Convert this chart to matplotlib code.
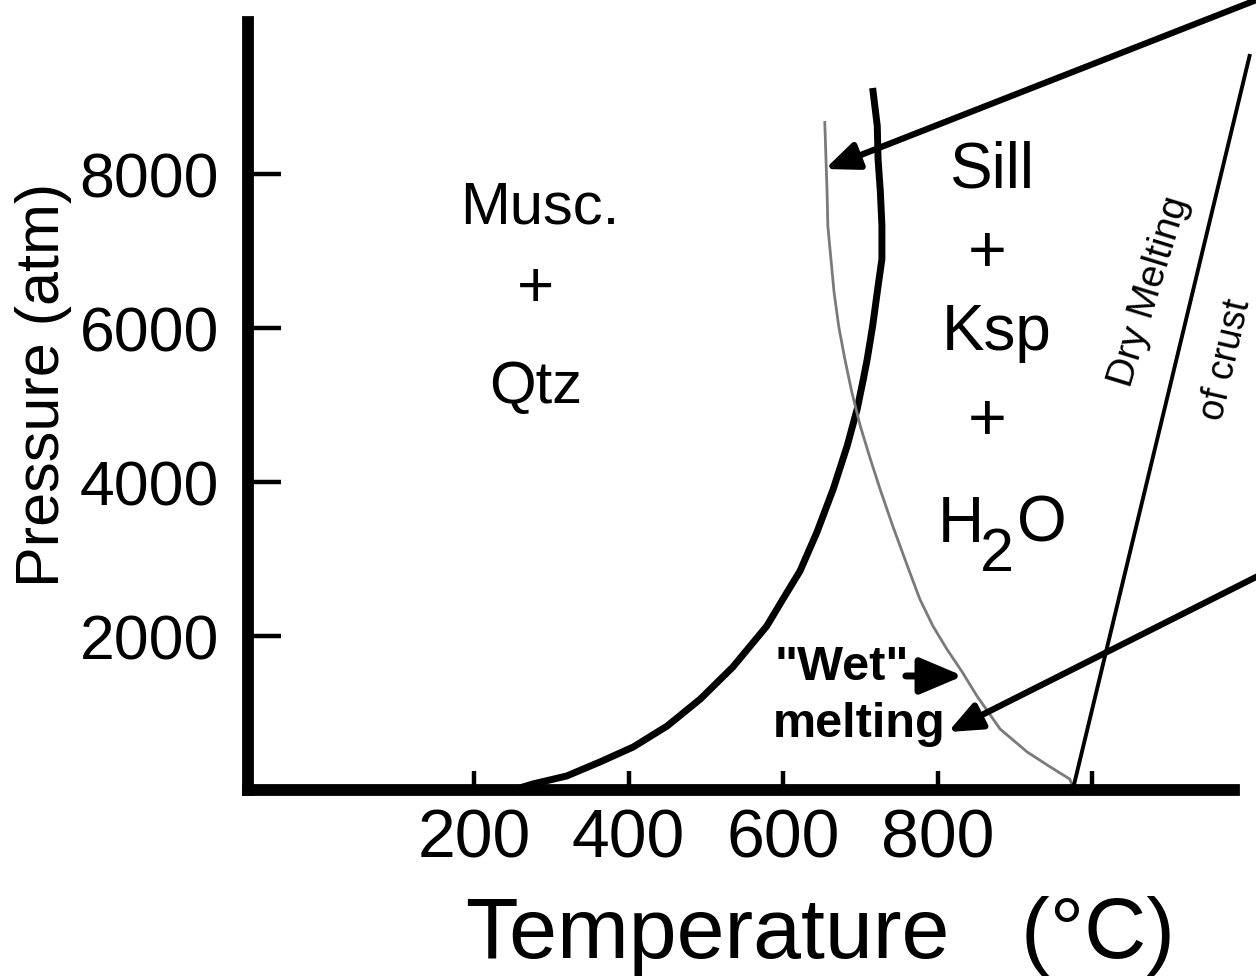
import matplotlib
matplotlib.use("Agg")
import matplotlib.pyplot as plt

plt.rcParams['font.family'] = ['Liberation Sans', 'DejaVu Sans']

# ---- data ----
musc_T = [259, 276, 320, 363, 406, 450, 493, 535, 579, 600, 622, 644, 665, 683, 696,
          704, 709, 716, 722, 728, 728, 726, 723, 722, 716]
musc_P = [26, 78, 182, 364, 558, 831, 1182, 1597, 2130, 2481, 2844, 3351, 3909, 4468, 4948,
          5338, 5597, 6026, 6468, 6896, 7325, 7766, 8195, 8623, 9117]

wet_T = [654, 657, 658, 662, 666, 672, 680, 689, 700, 713, 726, 742, 761, 777, 794,
         812, 832, 851, 881, 916, 946, 971, 975]
wet_P = [8688, 7766, 7325, 6896, 6468, 6026, 5597, 5169, 4727, 4299, 3896, 3429, 2909, 2481, 2130,
         1831, 1532, 1221, 792, 494, 299, 143, 52]

dry_T = [975, 1204.5]
dry_P = [0, 9558]

x_ticks = [200, 400, 600, 800, 1000]
x_ticklabels = ['200', '400', '600', '800', '']
y_ticks = [2000, 4000, 6000, 8000]
y_ticklabels = ['2000', '4000', '6000', '8000']

# arrows: (tip T, tip P, tail T, tail P)
arrow_upper = (654.4, 8065, 1256, 10430)
arrow_lower = (813.6, 753, 1256, 2987)
arrow_wet = (833, 1481, 759, 1481)

fig = plt.figure(figsize=(12.56, 9.79), dpi=100)
ax = fig.add_axes([248 / 1256, 1 - 791 / 979, 986 / 1256, 768 / 979])
ax.set_xlim(-92.6, -92.6 + 986 / 0.7725)
ax.set_ylim(0, 768 / 0.077)

for s in ['top', 'right']:
    ax.spines[s].set_visible(False)
for s in ['left', 'bottom']:
    ax.spines[s].set_linewidth(8.5)
    ax.spines[s].set_capstyle('projecting')

ax.set_xticks(x_ticks)
ax.set_xticklabels(x_ticklabels)
ax.set_yticks(y_ticks)
ax.set_yticklabels(y_ticklabels)
ax.tick_params(axis='both', direction='in', width=3.2, color='black')
ax.tick_params(axis='y', length=24, labelsize=45, pad=21)
ax.tick_params(axis='x', length=14, labelsize=49, pad=12)

# curves
ax.plot(musc_T, musc_P, color='black', lw=5, solid_capstyle='butt', solid_joinstyle='round')
ax.plot(wet_T, wet_P, color='#7a7a7a', lw=2, solid_capstyle='butt', solid_joinstyle='round')
ax.plot(dry_T, dry_P, color='black', lw=2.8, clip_on=False, solid_capstyle='butt')

# arrows
for tip_T, tip_P, tail_T, tail_P in [arrow_upper, arrow_lower]:
    ax.annotate('', xy=(tip_T, tip_P), xytext=(tail_T, tail_P),
                xycoords='data', textcoords='data', annotation_clip=False,
                arrowprops=dict(arrowstyle='-|>,head_length=1.0,head_width=0.42',
                                mutation_scale=20, lw=4.5, color='black',
                                shrinkA=0, shrinkB=0))
ax.annotate('', xy=arrow_wet[:2], xytext=arrow_wet[2:],
            xycoords='data', textcoords='data', annotation_clip=False,
            arrowprops=dict(arrowstyle='-|>,head_length=1.3,head_width=0.55',
                            mutation_scale=20, lw=5, color='black',
                            shrinkA=0, shrinkB=0))

# region labels (positions given in reference pixels, converted to data units)
def px(x, y):
    return ((x - 319.5) / 0.7725, (791 - y) / 0.077)

ax.text(*px(540, 208), 'Musc.', fontsize=43, ha='center', va='center')
ax.text(*px(535, 290), '+', fontsize=46, ha='center', va='center')
ax.text(*px(536, 388), 'Qtz', fontsize=43, ha='center', va='center')

ax.text(*px(992, 171), 'Sill', fontsize=46, ha='center', va='center')
ax.text(*px(987, 255), '+', fontsize=48, ha='center', va='center')
ax.text(*px(997, 333), 'Ksp', fontsize=46, ha='center', va='center')
ax.text(*px(987, 423), '+', fontsize=48, ha='center', va='center')
ax.text(*px(961, 542), 'H', fontsize=46, ha='center', va='baseline')
ax.text(*px(997, 571), '2', fontsize=44, ha='center', va='baseline')
ax.text(*px(1042, 542), 'O', fontsize=46, ha='center', va='baseline')

ax.text(*px(1150, 292), 'Dry Melting', fontsize=28, ha='center', va='center',
        rotation=73, rotation_mode='anchor')
ax.text(*px(1226, 360), 'of crust', fontsize=27, ha='center', va='center',
        rotation=77, rotation_mode='anchor', clip_on=False)

ax.text(*px(842, 680), '"Wet"', fontsize=35, fontweight='bold', ha='center', va='baseline')
ax.text(*px(859, 737), 'melting', fontsize=35, fontweight='bold', ha='center', va='baseline')

# axis titles
fig.text(820 / 1256, 1 - 958 / 979, 'Temperature   (\u00b0C)', fontsize=62,
         ha='center', va='baseline')
fig.text(44 / 1256, 1 - 385 / 979, 'Pressure (atm)', fontsize=44,
         ha='center', va='center', rotation=90)

fig.savefig('out.png', dpi=100, facecolor='white')
